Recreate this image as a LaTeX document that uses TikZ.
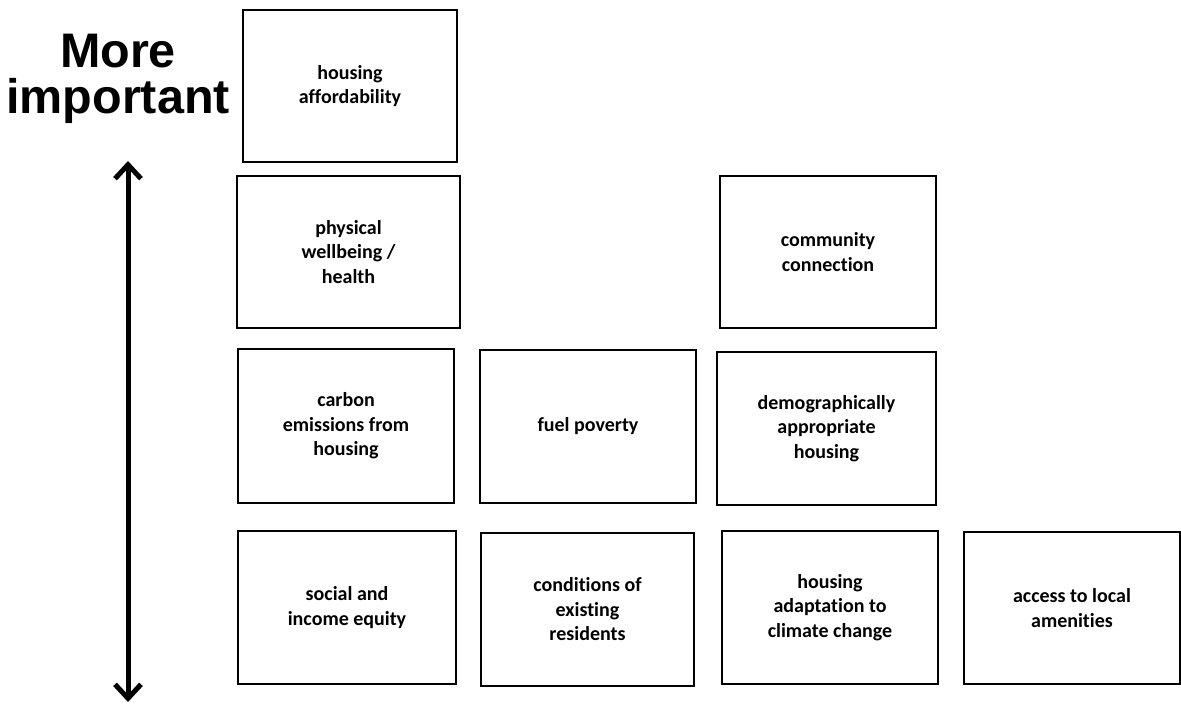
\documentclass[tikz,border=0pt]{standalone}
\usepackage{fontspec}
\setmainfont{Carlito}[Ligatures=NoCommon]
\newfontfamily\labelfont{Liberation Sans}
\usetikzlibrary{arrows.meta}
\begin{document}
\begin{tikzpicture}[x=1pt,y=-1pt,
  box/.style={draw=black, line width=2pt, fill=white, inner sep=0pt,
    align=center, font=\fontsize{20}{24.5}\selectfont\bfseries},
  axis/.style={line width=5pt, {Straight Barb[length=14pt,width=26pt]}-{Straight Barb[length=14pt,width=26pt]}},
  title/.style={align=center, font=\labelfont\fontsize{48.5}{46}\selectfont\bfseries, inner sep=0pt}
]
\useasboundingbox (0,0) rectangle (1181,707);
\fill[white] (0,0) rectangle (1181,707);

\node[title] (lbl) at (118,79) {More\\important};

\coordinate (atop) at (128,161);
\coordinate (abot) at (128,702);
\draw[axis] (atop) -- (abot);

\node[box, minimum width=214pt, minimum height=152pt] (a) at (350,86) {housing\\affordability};
\node[box, minimum width=223pt, minimum height=152pt] (b) at (348.5,252) {physical\\wellbeing /\\health};
\node[box, minimum width=216pt, minimum height=152pt] (c) at (828,252) {community\\connection};
\node[box, minimum width=216pt, minimum height=154pt] (d) at (346,426) {carbon\\emissions from\\housing};
\node[box, minimum width=216pt, minimum height=153pt] (e) at (588,426.5) {fuel poverty};
\node[box, minimum width=219pt, minimum height=153pt] (f) at (826.5,428.5) {demographically\\appropriate\\housing};
\node[box, minimum width=218pt, minimum height=153pt] (g) at (347,607.5) {social and\\income equity};
\node[box, minimum width=213pt, minimum height=153pt] (h) at (587.5,609.5) {conditions of\\existing\\residents};
\node[box, minimum width=216pt, minimum height=153pt] (i) at (830,607.5) {housing\\adaptation to\\climate change};
\node[box, minimum width=216pt, minimum height=152pt] (j) at (1072,608) {access to local\\amenities};
\end{tikzpicture}
\end{document}
